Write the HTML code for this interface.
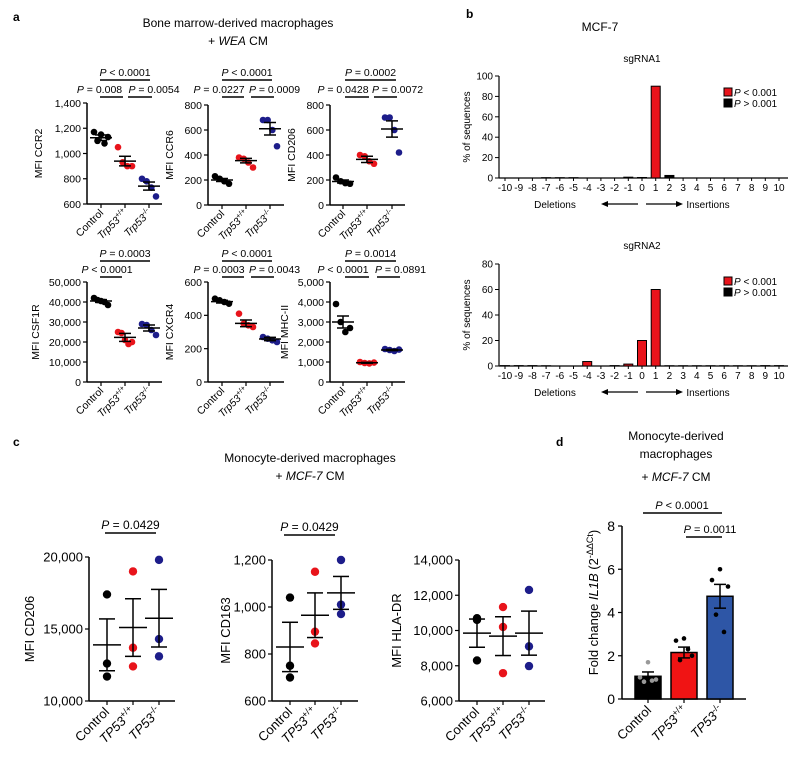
<!DOCTYPE html>
<html><head><meta charset="utf-8"><style>
html,body{margin:0;padding:0;background:#fff;}
svg{display:block;font-family:"Liberation Sans",Arial,sans-serif;}
</style></head><body>
<svg id="fig" width="800" height="768" viewBox="0 0 800 768" xmlns="http://www.w3.org/2000/svg">
<text x="13" y="21" font-size="12" font-weight="bold">a</text>
<text x="238" y="27" font-size="12" text-anchor="middle">Bone marrow-derived macrophages</text>
<text x="238" y="45" font-size="12" text-anchor="middle">+ <tspan font-style="italic">WEA</tspan> CM</text>
<text x="466" y="18" font-size="12" font-weight="bold">b</text>
<text x="600" y="31" font-size="12" text-anchor="middle">MCF-7</text>
<text x="13" y="446" font-size="12" font-weight="bold">c</text>
<text x="310" y="462" font-size="12" text-anchor="middle">Monocyte-derived macrophages</text>
<text x="310" y="480" font-size="12" text-anchor="middle">+ <tspan font-style="italic">MCF-7</tspan> CM</text>
<text x="556" y="446" font-size="12" font-weight="bold">d</text>
<text x="676" y="440" font-size="12" text-anchor="middle">Monocyte-derived</text>
<text x="676" y="458" font-size="12" text-anchor="middle">macrophages</text>
<text x="676" y="481" font-size="12" text-anchor="middle">+ <tspan font-style="italic">MCF-7</tspan> CM</text>
</svg>
<script>
// ---------- data ----------
const groupsA = ['Control','Trp53','Trp53'];
const supA = ['','+/+','-/-'];
const groupsC = ['Control','TP53','TP53'];
const supC = ['','+/+','-/-'];
const colors = ['#000000','#e8141b','#1d1d8a'];

const ccr2Vals = [[1170,1100,1150,1080,1130],[1050,930,900,900],[800,780,730,660]];
const ccr2Mean = [1125,940,742]; const ccr2Sem = [22,38,32];
const ccr6Vals = [[230,210,190,170],[380,370,340,300],[680,680,600,470]];
const ccr6Mean = [200,355,610]; const ccr6Sem = [12,18,50];
const cd206aVals = [[220,190,175,170],[400,390,350,330],[700,700,600,420]];
const cd206aMean = [188,365,608]; const cd206aSem = [12,25,65];
const csf1rVals = [[42000,41000,40500,40000,38500],[25000,24500,21000,19000,20000],[29000,28500,26000,23500]];
const csf1rMean = [40500,22300,27000]; const csf1rSem = [700,2000,1500];
const cxcr4Vals = [[500,490,480,470],[410,350,340,330],[270,260,250,240]];
const cxcr4Mean = [482,352,258]; const cxcr4Sem = [8,20,10];
const mhcVals = [[3900,3000,2500,2700],[1000,950,930,970],[1650,1600,1550,1620]];
const mhcMean = [3000,960,1600]; const mhcSem = [300,20,30];

const cd206cVals = [[17400,12600,11700],[19000,13700,12400],[19800,14300,13100]];
const cd206cMean = [13900,15100,15750]; const cd206cSem = [1800,2000,2000];
const cd163Vals = [[1040,750,700],[1150,895,845],[1200,1010,970]];
const cd163Mean = [830,965,1060]; const cd163Sem = [105,95,70];
const hlaVals = [[10700,10600,8300],[11330,10200,7580],[12300,9100,7980]];
const hlaMean = [9850,9680,9850]; const hlaSem = [800,1100,1250];

const indelCats = [-10,-9,-8,-7,-6,-5,-4,-3,-2,-1,0,1,2,3,4,5,6,7,8,9,10];
const sg1Vals = [0,0,0,0.3,0.3,0.3,0,0,0,0.8,0.5,90,2.5,0,0,0,0,0,0,0,0];
const sg1Sig = [0,0,0,0,0,0,0,0,0,0,0,1,0,0,0,0,0,0,0,0,0];
const sg2Vals = [0.3,0.3,0.3,0.2,0,0,3.5,0,0.3,1.5,20,60,0.2,0.2,0.2,0.2,0.2,0.2,0.2,0.3,0.3];
const sg2Sig = [0,0,0,0,0,0,1,0,0,1,1,1,0,0,0,0,0,0,0,0,0];

const il1bMean = [1.05,2.15,4.75];
const il1bSem = [0.2,0.25,0.55];
const il1bDots = [[1.7,1.0,0.9,0.8,0.85],[2.8,2.7,2.0,1.8,2.3],[6.0,5.5,5.2,3.9,3.1]];
const il1bColors = ['#000000','#f01414','#2e56a6'];
const il1bDotColors = ['#999999','#000000','#000000'];

// ---------- helpers ----------
const svg = document.getElementById('fig');
const NS = 'http://www.w3.org/2000/svg';
function el(tag, attrs, parent){ const e=document.createElementNS(NS,tag); for(const k in attrs) e.setAttribute(k,attrs[k]); (parent||svg).appendChild(e); return e; }
function fmt(v){ return v.toLocaleString('en-US'); }

function scatterPanel(o){
  const g = el('g',{});
  
  
  const ys = v => o.yB - (v-o.yMin)/(o.yMax-o.yMin)*(o.yB-o.yT);
  const fs = o.fs;
  el('line',{x1:o.ax,y1:o.yT,x2:o.ax,y2:o.yB,stroke:'#000','stroke-width':1.5},g);
  el('line',{x1:o.ax,y1:o.yB,x2:o.axEnd,y2:o.yB,stroke:'#000','stroke-width':1.5},g);
  o.ticks.forEach(t=>{
    const y=ys(t);
    el('line',{x1:o.ax-4,y1:y,x2:o.ax,y2:y,stroke:'#000','stroke-width':1.2},g);
    const tx=el('text',{x:o.ax-6,y:y+fs*0.36,'font-size':fs,'text-anchor':'end'},g);
    tx.textContent=fmt(t);
    
    
  });
  const yl=el('text',{x:0,y:0,'font-size':fs,'text-anchor':'middle',transform:`translate(${o.ax-o.ylOff},${(o.yT+o.yB)/2}) rotate(-90)`},g);
  yl.textContent=o.ylabel;
  
  
  o.xs.forEach((cx,i)=>{
    el('line',{x1:cx,y1:o.yB,x2:cx,y2:o.yB+4,stroke:'#000','stroke-width':1.2},g);
    const lt=el('text',{x:0,y:0,'font-size':fs,'text-anchor':'end',transform:`translate(${cx+3},${o.yB+fs*0.9}) rotate(-45)`},g);
    
    
    const t1=el('tspan',{'font-style':i>0&&o.italic?'italic':'normal'},lt); t1.textContent=o.groups[i];
    if(o.sups[i]){ const t2=el('tspan',{'font-size':fs*0.7,dy:-fs*0.4},lt); t2.textContent=o.sups[i]; }
    const n=o.vals[i].length;
    o.vals[i].forEach((v,j)=>{
      const dx = n===1?0:(j-(n-1)/2)*(o.spread/(n-1));
      const c=el('circle',{cx:cx+dx,cy:ys(v),r:o.r,fill:colors[i]},g);
      
      
    });
    const m=ys(o.mean[i]), up=ys(o.mean[i]+o.sem[i]), lo=ys(o.mean[i]-o.sem[i]);
    el('line',{x1:cx-o.mw,y1:m,x2:cx+o.mw,y2:m,stroke:'#000','stroke-width':1.5},g);
    el('line',{x1:cx,y1:up,x2:cx,y2:lo,stroke:'#000','stroke-width':1.5},g);
    el('line',{x1:cx-o.ew,y1:up,x2:cx+o.ew,y2:up,stroke:'#000','stroke-width':1.5},g);
    el('line',{x1:cx-o.ew,y1:lo,x2:cx+o.ew,y2:lo,stroke:'#000','stroke-width':1.5},g);
  });
  (o.pvals||[]).forEach(p=>{
    el('line',{x1:p.x1,y1:p.y,x2:p.x2,y2:p.y,stroke:'#000','stroke-width':1.5},g);
    const t=el('text',{x:(p.x1+p.x2)/2+(p.off||0),y:p.y-4,'font-size':o.pfs||fs,'text-anchor':'middle'},g);
    
    
    const a=el('tspan',{'font-style':'italic'},t); a.textContent='P';
    const b=el('tspan',{},t); b.textContent=' '+p.t;
  });
}

const aCommon = {fs:10.5, r:3.3, spread:14, mw:11, ew:6, italic:true, groups:groupsA, sups:supA, ylOff:45};
// row 1
scatterPanel(Object.assign({},aCommon,{name:'ccr2-plot',ax:87,axEnd:162,yT:103,yB:204,yMin:600,yMax:1400,ticks:[600,800,1000,1200,1400],xs:[101,125,149],ylabel:'MFI CCR2',vals:ccr2Vals,mean:ccr2Mean,sem:ccr2Sem,
  pvals:[{x1:100,x2:150,y:80,t:'< 0.0001'},{x1:100,x2:123,y:97,t:'= 0.008',off:-12},{x1:128,x2:152,y:97,t:'= 0.0054',off:14}]}));
scatterPanel(Object.assign({},aCommon,{name:'ccr6-plot',ylOff:35,ax:208,axEnd:284,yT:105,yB:205,yMin:0,yMax:800,ticks:[0,200,400,600,800],xs:[222,246,270],ylabel:'MFI CCR6',vals:ccr6Vals,mean:ccr6Mean,sem:ccr6Sem,
  pvals:[{x1:222,x2:272,y:80,t:'< 0.0001'},{x1:222,x2:244,y:97,t:'= 0.0227',off:-14},{x1:251,x2:274,y:97,t:'= 0.0009',off:12}]}));
scatterPanel(Object.assign({},aCommon,{name:'cd206-mouse-plot',ylOff:35,ax:330,axEnd:405,yT:105,yB:205,yMin:0,yMax:800,ticks:[0,200,400,600,800],xs:[343,367,392],ylabel:'MFI CD206',vals:cd206aVals,mean:cd206aMean,sem:cd206aSem,
  pvals:[{x1:345,x2:396,y:80,t:'= 0.0002'},{x1:345,x2:369,y:97,t:'= 0.0428',off:-14},{x1:374,x2:397,y:97,t:'= 0.0072',off:12}]}));
// row 2
scatterPanel(Object.assign({},aCommon,{name:'csf1r-plot',ylOff:48,ax:87,axEnd:162,yT:282,yB:382,yMin:0,yMax:50000,ticks:[0,10000,20000,30000,40000,50000],xs:[101,125,149],ylabel:'MFI CSF1R',vals:csf1rVals,mean:csf1rMean,sem:csf1rSem,
  pvals:[{x1:100,x2:150,y:261,t:'= 0.0003'},{x1:100,x2:122,y:277,t:'< 0.0001',off:-4}]}));
scatterPanel(Object.assign({},aCommon,{name:'cxcr4-plot',ylOff:35,ax:208,axEnd:284,yT:282,yB:382,yMin:0,yMax:600,ticks:[0,200,400,600],xs:[222,246,270],ylabel:'MFI CXCR4',vals:cxcr4Vals,mean:cxcr4Mean,sem:cxcr4Sem,
  pvals:[{x1:222,x2:272,y:261,t:'< 0.0001'},{x1:222,x2:244,y:277,t:'= 0.0003',off:-14},{x1:251,x2:274,y:277,t:'= 0.0043',off:12}]}));
scatterPanel(Object.assign({},aCommon,{name:'mhc-ii-plot',ylOff:42,ax:330,axEnd:405,yT:282,yB:382,yMin:0,yMax:5000,ticks:[0,1000,2000,3000,4000,5000],xs:[343,367,392],ylabel:'MFI MHC-II',vals:mhcVals,mean:mhcMean,sem:mhcSem,
  pvals:[{x1:345,x2:396,y:261,t:'= 0.0014'},{x1:345,x2:369,y:277,t:'< 0.0001',off:-14},{x1:377,x2:400,y:277,t:'= 0.0891',off:12}]}));

// panel c
const cCommon = {fs:13, r:4.2, spread:0, mw:14, ew:8, italic:true, groups:groupsC, sups:supC, pfs:12};
function cPanel(o){ return Object.assign({},cCommon,o); }
scatterPanel(cPanel({name:'cd206-human-plot',ylOff:55,ax:89,axEnd:175,yT:557,yB:701,yMin:10000,yMax:20000,ticks:[10000,15000,20000],xs:[107,133,159],ylabel:'MFI CD206',vals:cd206cVals,mean:cd206cMean,sem:cd206cSem,
  pvals:[{x1:105,x2:156,y:533,t:'= 0.0429'}]}));
scatterPanel(cPanel({name:'cd163-plot',ylOff:42,ax:272,axEnd:358,yT:560,yB:701,yMin:600,yMax:1200,ticks:[600,800,1000,1200],xs:[290,315,341],ylabel:'MFI CD163',vals:cd163Vals,mean:cd163Mean,sem:cd163Sem,
  pvals:[{x1:284,x2:335,y:535,t:'= 0.0429'}]}));
scatterPanel(cPanel({name:'hla-dr-plot',ylOff:58,ax:459,axEnd:545,yT:560,yB:701,yMin:6000,yMax:14000,ticks:[6000,8000,10000,12000,14000],xs:[477,503,529],ylabel:'MFI HLA-DR',vals:hlaVals,mean:hlaMean,sem:hlaSem}));
// spread small horizontal offsets for c dots
svg.querySelectorAll('circle').forEach(()=>{});

// ---------- panel b ----------
function barPanel(o){
  const g=el('g',{});
  
  
  const x0=505, step=13.7;
  const xs=i=>x0+i*step;
  const ys=v=>o.yB-v/o.yMax*(o.yB-o.yT);
  const tt=el('text',{x:642,y:o.titleY,'font-size':10,'text-anchor':'middle'},g);
  tt.textContent=o.title;
  
  
  el('line',{x1:499,y1:o.yT,x2:499,y2:o.yB,stroke:'#000','stroke-width':1.2},g);
  el('line',{x1:499,y1:o.yB,x2:788,y2:o.yB,stroke:'#000','stroke-width':1.2},g);
  o.ticks.forEach(t=>{
    const y=ys(t);
    el('line',{x1:495,y1:y,x2:499,y2:y,stroke:'#000','stroke-width':1},g);
    const tx=el('text',{x:493,y:y+3.5,'font-size':10,'text-anchor':'end'},g); tx.textContent=t;
    
    
  });
  const yl=el('text',{x:0,y:0,'font-size':10,'text-anchor':'middle',transform:`translate(${470},${(o.yT+o.yB)/2}) rotate(-90)`},g);
  yl.textContent='% of sequences';
  
  
  indelCats.forEach((c,i)=>{
    const x=xs(i);
    el('line',{x1:x,y1:o.yB,x2:x,y2:o.yB+3,stroke:'#000','stroke-width':1},g);
    const t=el('text',{x:x,y:o.yB+13,'font-size':10,'text-anchor':'middle'},g); t.textContent=c;
    
    
    const v=o.vals[i];
    if(v>0){
      const r=el('rect',{x:x-4.5,y:ys(v),width:9,height:o.yB-ys(v),fill:o.sig[i]?'#e8141b':'#000',stroke:'#000','stroke-width':1},g);
      
      
    }
  });
  const dy=o.yB+30;
  const d=el('text',{x:555,y:dy,'font-size':10,'text-anchor':'middle'},g); d.textContent='Deletions';
   
  const ins=el('text',{x:708,y:dy,'font-size':10,'text-anchor':'middle'},g); ins.textContent='Insertions';
   
  el('line',{x1:604,y1:dy-4,x2:638,y2:dy-4,stroke:'#000','stroke-width':1.2},g);
  el('polygon',{points:`${601},${dy-4} ${608},${dy-7} ${608},${dy-1}`,fill:'#000'},g);
  el('line',{x1:646,y1:dy-4,x2:680,y2:dy-4,stroke:'#000','stroke-width':1.2},g);
  el('polygon',{points:`${683},${dy-4} ${676},${dy-7} ${676},${dy-1}`,fill:'#000'},g);
  [['#e8141b','< 0.001'],['#000','> 0.001']].forEach((L,k)=>{
    const ly=o.legY+k*11;
    const sw=el('rect',{x:724,y:ly-8,width:8,height:8,fill:L[0],stroke:'#000','stroke-width':1},g);
     
    const lt=el('text',{x:734,y:ly,'font-size':10},g);
     
    const a=el('tspan',{'font-style':'italic'},lt); a.textContent='P';
    const b=el('tspan',{},lt); b.textContent=' '+L[1];
  });
}
barPanel({name:'sgrna1-chart',title:'sgRNA1',titleY:62,yT:76,yB:178,yMax:100,ticks:[0,20,40,60,80,100],vals:sg1Vals,sig:sg1Sig,legY:96});
barPanel({name:'sgrna2-chart',title:'sgRNA2',titleY:249,yT:264,yB:366,yMax:80,ticks:[0,20,40,60,80],vals:sg2Vals,sig:sg2Sig,legY:285});

// ---------- panel d ----------
(function(){
  const g=el('g',{});
  
  
  const ax=622,yT=526,yB=699,yMax=8;
  const ys=v=>yB-v/yMax*(yB-yT);
  const xs=[648,684,720];
  el('line',{x1:ax,y1:yT,x2:ax,y2:yB,stroke:'#000','stroke-width':1.5},g);
  el('line',{x1:ax,y1:yB,x2:746,y2:yB,stroke:'#000','stroke-width':1.5},g);
  [0,2,4,6,8].forEach(t=>{
    const y=ys(t);
    el('line',{x1:ax-4,y1:y,x2:ax,y2:y,stroke:'#000','stroke-width':1.2},g);
    const tx=el('text',{x:ax-7,y:y+5,'font-size':14,'text-anchor':'end'},g); tx.textContent=t;
     
  });
  const yl=el('text',{x:0,y:0,'font-size':13,'text-anchor':'middle',transform:`translate(598,${(yT+yB)/2-10}) rotate(-90)`},g);
   
  const s1=el('tspan',{},yl); s1.textContent='Fold change ';
  const s2=el('tspan',{'font-style':'italic'},yl); s2.textContent='IL1B';
  const s3=el('tspan',{},yl); s3.textContent=' (2';
  const s4=el('tspan',{'font-size':9,dy:-5},yl); s4.textContent='-ΔΔCt';
  const s5=el('tspan',{dy:5},yl); s5.textContent=')';
  xs.forEach((cx,i)=>{
    const b=el('rect',{x:cx-13,y:ys(il1bMean[i]),width:26,height:yB-ys(il1bMean[i]),fill:il1bColors[i],stroke:'#000','stroke-width':1.5},g);
     
    const up=ys(il1bMean[i]+il1bSem[i]), lo=ys(il1bMean[i]-il1bSem[i]);
    el('line',{x1:cx,y1:up,x2:cx,y2:lo,stroke:'#000','stroke-width':1.5},g);
    el('line',{x1:cx-6,y1:up,x2:cx+6,y2:up,stroke:'#000','stroke-width':1.5},g);
    el('line',{x1:cx-6,y1:lo,x2:cx+6,y2:lo,stroke:'#000','stroke-width':1.5},g);
    const offs=[0,-8,8,-4,4];
    il1bDots[i].forEach((v,j)=>{
      const c=el('circle',{cx:cx+offs[j],cy:ys(v),r:2.3,fill:il1bDotColors[i]},g);
       
    });
    el('line',{x1:cx,y1:yB,x2:cx,y2:yB+4,stroke:'#000','stroke-width':1.2},g);
    const lt=el('text',{x:0,y:0,'font-size':13,'text-anchor':'end',transform:`translate(${cx+4},${yB+12}) rotate(-45)`},g);
     
    const t1=el('tspan',{'font-style':i>0?'italic':'normal'},lt); t1.textContent=groupsC[i];
    if(supC[i]){ const t2=el('tspan',{'font-size':9,dy:-5},lt); t2.textContent=supC[i]; }
  });
  [{x1:643,x2:722,y:513,t:'< 0.0001',tx:682},{x1:686,x2:722,y:537,t:'= 0.0011',tx:710}].forEach(p=>{
    el('line',{x1:p.x1,y1:p.y,x2:p.x2,y2:p.y,stroke:'#000','stroke-width':1.5},g);
    const t=el('text',{x:p.tx,y:p.y-4,'font-size':11,'text-anchor':'middle'},g);
     
    const a=el('tspan',{'font-style':'italic'},t); a.textContent='P';
    const b=el('tspan',{},t); b.textContent=' '+p.t;
  });
})();
</script>
</body></html>
